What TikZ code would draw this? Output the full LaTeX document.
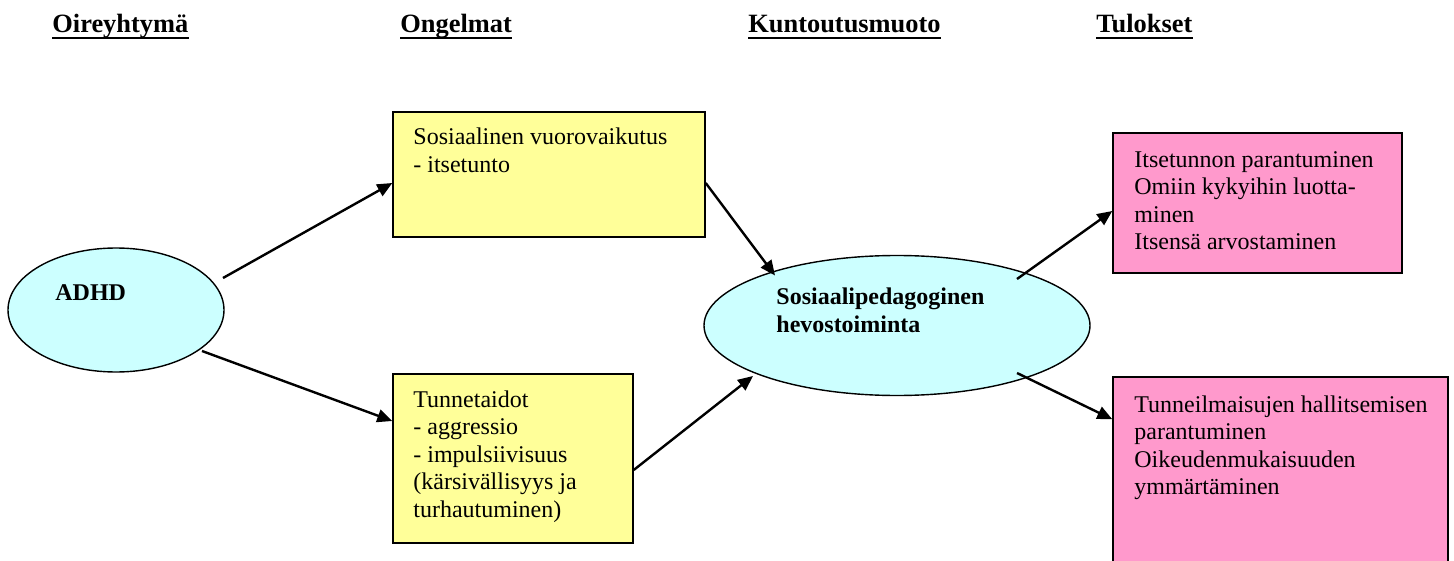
\documentclass[tikz,border=0pt]{standalone}
\usepackage{fontspec}
\setmainfont{Liberation Serif}
\usetikzlibrary{arrows.meta,shapes.geometric}
\definecolor{boxyellow}{HTML}{FFFF99}
\definecolor{boxpink}{HTML}{FF99CC}
\definecolor{ovalcyan}{HTML}{CCFFFF}
\begin{document}
\begin{tikzpicture}[x=0.5pt,y=-0.5pt,
  hdr/.style={font=\fontsize{13.2}{15}\selectfont\bfseries, inner sep=0, anchor=base west},
  ulline/.style={line width=1.3pt},
  ybox/.style={draw=black, line width=0.7pt, fill=boxyellow, rectangle, inner sep=0},
  pbox/.style={draw=black, line width=0.7pt, fill=boxpink, rectangle, inner sep=0},
  oval/.style={draw=black, line width=0.7pt, fill=ovalcyan, ellipse, inner sep=0},
  txt/.style={font=\fontsize{12}{13.75}\selectfont, inner sep=0, anchor=base west, align=left},
  btxt/.style={font=\fontsize{12}{13.75}\selectfont\bfseries, inner sep=0, anchor=base west, align=left},
  conn/.style={line width=1.2pt, -{Triangle[length=7.5pt,width=6.5pt]}},
]
\clip (0,0) rectangle (1454,561);
\fill[white] (0,0) rectangle (1454,561);

% headers
\node[hdr] (h1) at (52,33) {Oireyhtymä};
\node[hdr] (h2) at (400,33) {Ongelmat};
\node[hdr] (h3) at (748,33) {Kuntoutusmuoto};
\node[hdr] (h4) at (1096,33) {Tulokset};
\foreach \h in {h1,h2,h3,h4}
  \draw[ulline] ([yshift=-2.6pt]\h.base west) -- ([yshift=-2.6pt]\h.base east);

% shapes (text nodes are anchored at the baseline of their last line)
\node[oval, minimum width=108pt, minimum height=62pt] (adhd) at (116,310) {};
\node[btxt] (adhdt) at (55,300) {ADHD};

\node[ybox, minimum width=156pt, minimum height=62.5pt] (y1) at (549,174.5) {};
\node[txt] (y1t) at (413,172.5) {Sosiaalinen vuorovaikutus\\- itsetunto};

\node[ybox, minimum width=120pt, minimum height=84.5pt] (y2) at (513,458.5) {};
\node[txt] (y2t) at (413,517) {Tunnetaidot\\- aggressio\\- impulsiivisuus\\(kärsivällisyys ja\\turhautuminen)};

\node[oval, minimum width=193pt, minimum height=70pt] (hevo) at (897,325.5) {};
\node[btxt] (hevot) at (776,332) {Sosiaalipedagoginen\\hevostoiminta};

\node[pbox, minimum width=144.5pt, minimum height=70pt] (p1) at (1257.5,203) {};
\node[txt] (p1t) at (1134,249.5) {Itsetunnon parantuminen\\Omiin kykyihin luotta-\\minen\\Itsensä arvostaminen};

\node[pbox, minimum width=167.5pt, minimum height=101.5pt] (p2) at (1280.5,478.5) {};
\node[txt] (p2t) at (1134,494.5) {Tunneilmaisujen hallitsemisen\\parantuminen\\Oikeudenmukaisuuden\\ymmärtäminen};

% connectors
\draw[conn] ([shift={(107,-32)}]adhd.center) -- ([shift={(0,8.5)}]y1.west);
\draw[conn] ([shift={(86,41)}]adhd.center) -- ([shift={(0,-37.5)}]y2.west);
\draw[conn] ([shift={(0,8.5)}]y1.east) -- ([shift={(-122,-50)}]hevo.center);
\draw[conn] ([shift={(0,11.5)}]y2.east) -- ([shift={(-144,50.5)}]hevo.center);
\draw[conn] ([shift={(120,-46.5)}]hevo.center) -- ([shift={(0,8)}]p1.west);
\draw[conn] ([shift={(120,47.5)}]hevo.center) -- ([shift={(0,43)}]p2.north west);
\end{tikzpicture}
\end{document}
